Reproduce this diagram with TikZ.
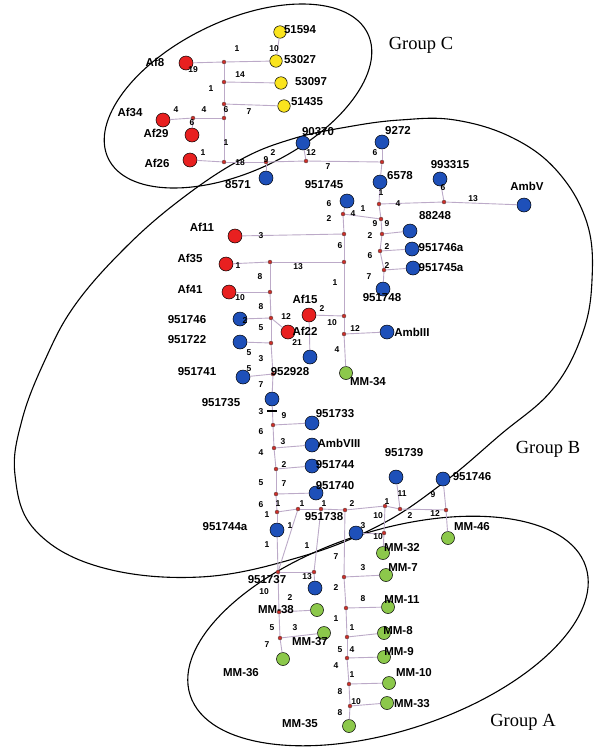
\documentclass[tikz,border=0pt]{standalone}
\usepackage{fontspec}
\setmainfont{Liberation Sans}
\newfontfamily\grpfont{Liberation Serif}
\definecolor{hblue}{RGB}{30,80,185}
\definecolor{hred}{RGB}{232,32,32}
\definecolor{hyel}{RGB}{250,228,30}
\definecolor{hgreen}{RGB}{140,200,75}
\definecolor{medred}{RGB}{205,45,40}
\definecolor{edgec}{RGB}{188,170,200}
\begin{document}
\begin{tikzpicture}[x=1pt,y=-1pt,
  hap/.style={circle,draw=black,line width=0.5pt,minimum size=14pt,inner sep=0pt},
  hb/.style={hap,fill=hblue},
  hr/.style={hap,fill=hred},
  hy/.style={hap,fill=hyel,minimum size=12.5pt},
  hg/.style={hap,fill=hgreen,minimum size=13pt},
  med/.style={circle,draw=black!70,fill=medred,line width=0.3pt,minimum size=4pt,inner sep=0pt},
  edge/.style={draw=edgec,line width=0.9pt},
  grp/.style={draw=black,line width=1.1pt},
  nlab/.style={font=\fontsize{11.5}{13}\selectfont\bfseries,inner sep=0pt},
  elab/.style={font=\fontsize{8.5}{9}\selectfont\bfseries,inner sep=0pt},
  glab/.style={font=\grpfont\fontsize{18.5}{20}\selectfont,inner sep=0pt}]
\useasboundingbox (0,0) rectangle (596,750);
\fill[white] (0,0) rectangle (596,750);

% group outlines
\draw[grp, rotate around={25.7:(238,96)}] (238,96) ellipse [x radius=144pt, y radius=75pt];
\draw[grp, rotate around={18:(388,631)}] (388,631) ellipse [x radius=208pt, y radius=100pt];
\draw[grp] plot[smooth cycle, tension=0.65] coordinates {
 (347,127) (400,120) (455,120) (513,138) (558,172) (587,223) (592,280) (582,335)
 (552,390) (500,435) (443,483) (380,525) (300,557) (200,577) (100,567) (35,530)
 (15,475) (22,420) (45,360) (75,305) (125,248) (180,200) (240,160) (292,139)};

% haplotypes
\foreach \n/\x/\y in {Y1/280/32, Y2/276/61, Y3/281/83, Y4/284/106}
  \node[hy] (\n) at (\x,\y) {};
\foreach \n/\x/\y in {Af8/186/63, Af34/163/120, Af29/192/135, Af26/190/160,
  Af11/235/236, Af35/226/264, Af41/229/292, Af15/309/315, Af22/288/332}
  \node[hr] (\n) at (\x,\y) {};
\foreach \n/\x/\y in {B90370/303/143, B8571/266/178, B9272/382/142, B6578/380/182,
  B993315/440/179, AmbV/524/205, B951745/347/201, B88248/410/231, B951746a/412/249,
  B951745a/413/268, B951748/383/289, AmbIII/387/332, Bu1/310/357,
  B951746L/240/319, B951722/240/342, B951741/243/377, B951735/272/399,
  B951733/312/423, AmbVIII/312/445, B951744/312/466, B951740/316/493,
  B951744a/277/530, B951739/396/477, B951746R/443/479, Bu2/356/533, Bu3/315/588}
  \node[hb] (\n) at (\x,\y) {};
\foreach \n/\x/\y in {MM34/346/373, MM46/448/538, MM32/383/553, MM38/317/610,
  MM37/324/633, MM36/283/659, MM7/386/575, MM11/388/607, MM8/384/633, MM9/384/657,
  MM10/389/683, MM33/387/703, MM35/349/726}
  \node[hg] (\n) at (\x,\y) {};

% median vectors
\foreach \n/\x/\y in {c1/224/62, c2/224/82, c3/224/104, c4/224/118, c5/193/118,
  c6/224/162, c7/266/162, c8/306/161, c9/382/162,
  d1/379/204, d2/444/202, d3/343/214, d4/381/219, d5/382/234, d6/380/251, d7/384/270,
  d8/344/234, d9/344/262, d10/270/262, d11/344/316, d12/344/334,
  d13/270/292, d14/271/318, d15/271/343, d16/273/374, d17/273/425, d18/274/448,
  d19/276/469, d20/276/494, d21/277/512, d22/298/509, d23/321/509, d24/345/510,
  d25/385/506, d26/400/509, d27/446/510, d28/384/533,
  e1/278/572, e2/314/572, e3/279/612, e4/280/638,
  f1/344/577, f2/346/608, f3/347/637, f4/347/658, f5/349/684, f6/350/706}
  \node[med] (\n) at (\x,\y) {};

% connectors
\foreach \a/\b in {Y1/Y2, c1/Y2, Af8/c1, c1/c2, c2/Y3, c2/c3, c3/Y4, c3/c4, c4/c5,
  c5/Af34, c5/Af29, c4/c6, Af26/c6, c6/c7, c7/c8, c8/c9, c7/B8571, c8/B90370,
  B9272/c9, c9/B6578, B6578/d1, d1/d2, d2/B993315, d2/AmbV, d1/d4, d3/d4,
  B951745/d3, d4/d5, d5/B88248, d5/d6, d6/B951746a, d6/d7, d7/B951745a, d7/B951748,
  d3/d8, Af11/d8, d8/d9, d10/d9, Af35/d10, d9/d11, Af15/d11, d11/d12, d12/AmbIII,
  d12/MM34, Af15/Bu1, d10/d13, Af41/d13, d13/d14, B951746L/d14, d14/Af22, d14/d15,
  B951722/d15, d15/d16, B951741/d16, d16/B951735, B951735/d17, d17/B951733, d17/d18,
  d18/AmbVIII, d18/d19, d19/B951744, d19/d20, d20/B951740, d20/d21, d21/B951744a,
  d21/d22, d22/d23, d23/d24, d24/d25, d25/d26, d26/d27, B951739/d26, B951746R/d27,
  d27/MM46, d25/d28, d28/MM32, Bu2/d28, B951744a/e1, d22/e1, e1/e2, d23/e2, e2/Bu3,
  e1/e3, e3/MM38, e3/e4, e4/MM37, e4/MM36, d24/f1, f1/MM7, f1/f2, f2/MM11, f2/f3,
  f3/MM8, f3/f4, f4/MM9, f4/f5, f5/MM10, f5/f6, f6/MM33, f6/MM35}
  \draw[edge] (\a) -- (\b);

% mutation tick
\coordinate (tkA) at (267,411);
\coordinate (tkB) at (277,411);
\draw[line width=1.3pt] (tkA) -- (tkB);

% haplotype labels
\foreach \n/\t/\x/\y in {l1/51594/300/30, l2/53027/300/60, l3/53097/311/82, l4/51435/307/102,
  l5/Af8/155/62, l6/Af34/130/112, l7/Af29/156/133, l8/Af26/157/163,
  l9/90370/318/132, l10/8571/238/185, l11/951745/324/185, l12/9272/398/131,
  l13/6578/400/176, l14/993315/450/165, l15/AmbV/527/186, l16/88248/435/216,
  l17/951746a/441/248, l18/951745a/441/268, l19/951748/382/298, l20/Af11/202/227,
  l21/Af35/190/258, l22/Af41/190/289, l23/951746/187/320, l24/951722/187/340,
  l25/951741/197/372, l26/951735/221/403, l27/952928/290/372, l28/951733/335/414,
  l29/AmbVIII/339/443, l30/951744/335/465, l31/951740/335/486, l32/951744a/225/527,
  l33/951738/324/517, l34/951739/404/453, l35/951746/472/477, l36/MM-46/472/527,
  l37/MM-32/402/548, l38/MM-7/403/568, l39/MM-11/402/600, l40/MM-8/398/631,
  l41/MM-9/399/652, l42/MM-10/414/673, l43/MM-33/412/704, l44/MM-35/300/724,
  l45/MM-36/241/673, l46/MM-38/276/610, l47/MM-37/310/642, l48/MM-34/368/382,
  l49/951737/267/580, l50/AmbIII/412/332, l51/Af15/305/299, l52/Af22/305/331}
  \node[nlab] (\n) at (\x,\y) {\t};

% connector labels (mutation counts)
\foreach \t/\x/\y [count=\i] in {10/274/49, 1/237/49, 19/193/70, 14/240/75, 1/211/89,
  7/249/112, 6/226/110, 4/176/110, 4/204/110, 6/192/123, 1/226/143, 1/203/153,
  18/240/163, 9/266/160, 2/273/153, 12/311/153, 7/328/167, 6/375/153,
  1/381/193, 4/398/204, 6/443/188, 13/473/199, 6/329/204, 2/329/219, 4/353/214,
  1/363/209, 9/375/224, 9/387/224, 2/370/236, 2/387/247, 6/370/256, 2/387/266,
  7/369/277, 3/261/236, 6/340/246, 1/238/266, 13/298/267, 8/260/277, 1/335/283,
  10/240/298, 8/261/307, 2/322/309, 12/286/317, 10/332/323, 12/355/329, 2/245/321,
  5/261/328, 21/297/343, 5/249/353, 4/337/350, 3/261/359, 5/249/369, 7/261/385,
  3/261/412, 9/284/416, 6/261/432, 3/283/442, 4/261/453, 2/284/465, 5/261/483,
  7/284/484, 6/261/505, 1/278/504, 1/267/515, 1/290/526, 1/302/504, 1/324/504,
  2/352/504, 1/387/502, 10/378/516, 11/402/494, 9/433/495, 2/410/516, 12/435/514,
  3/363/526, 10/378/537, 1/267/545, 1/307/546, 7/336/557, 13/307/577, 3/363/568,
  10/264/592, 2/290/598, 2/336/588, 8/363/599, 5/272/628, 3/295/628, 7/267/645,
  1/336/619, 1/352/628, 5/340/650, 4/352/650, 4/336/666, 1/352/675, 8/340/692,
  10/356/702, 8/340/713}
  \node[elab] (el\i) at (\x,\y) {\t};

% group labels
\node[glab] (gC) at (421,45) {Group C};
\node[glab] (gB) at (548,449) {Group B};
\node[glab] (gA) at (523,722) {Group A};
\end{tikzpicture}
\end{document}
